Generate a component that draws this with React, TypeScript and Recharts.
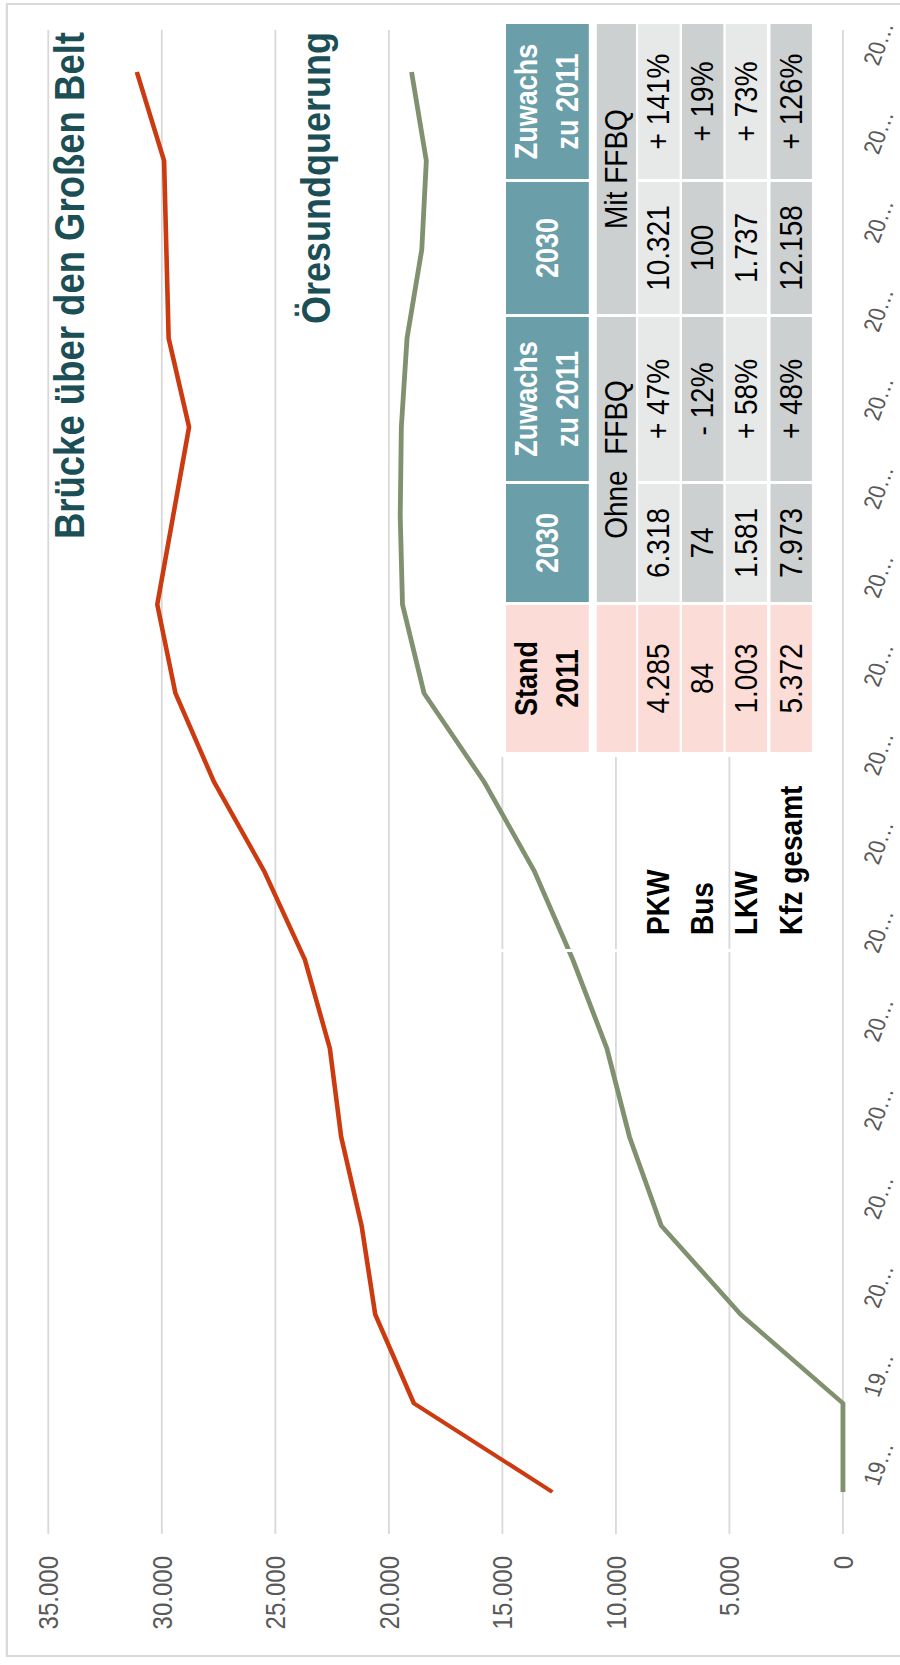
import React from 'react';
import { LineChart, Line, XAxis, YAxis, CartesianGrid } from 'recharts';

// ── Daten ─────────────────────────────────────────────────────────────────────

const years = [
  '1998', '1999', '2000', '2001', '2002', '2003', '2004', '2005', '2006',
  '2007', '2008', '2009', '2010', '2011', '2012', '2013', '2014',
];

// Kfz pro Tag, Brücke über den Großen Belt
const beltValues = [
  12800, 18900, 20600, 21200, 22100, 22600, 23700, 25500, 27700,
  29400, 30200, 29500, 28800, 29700, 29800, 29900, 31100,
];

// Kfz pro Tag, Öresundquerung
const oresundValues = [
  0, 0, 4500, 8000, 9400, 10400, 11900, 13600, 15800,
  18450, 19400, 19500, 19450, 19200, 18550, 18350, 19000,
];

const yTicks = [0, 5000, 10000, 15000, 20000, 25000, 30000, 35000];

// Tabelle
const rowLabels = ['PKW', 'Bus', 'LKW', 'Kfz gesamt'];
const stand2011 = ['4.285', '84', '1.003', '5.372'];
const ohne2030 = ['6.318', '74', '1.581', '7.973'];
const ohneZuwachs = ['+ 47%', '- 12%', '+ 58%', '+ 48%'];
const mit2030 = ['10.321', '100', '1.737', '12.158'];
const mitZuwachs = ['+ 141%', '+ 19%', '+ 73%', '+ 126%'];

// ── Layout ────────────────────────────────────────────────────────────────────

const W = 1665; // Querformat-Breite (= Seitenhöhe)
const STRETCH = 1.15; // Bild ist in der Breite leicht gestreckt
const H = Math.round(900 / STRETCH);
const CHART_H = H + 20;
const PLOT_TOP = 42;
const PLOT_H = 691;
const FONT = '"Liberation Sans", Arial, Helvetica, sans-serif';

const TEAL = '#6A9EA9';
const GREY_DARK = '#CDD0D1';
const GREY_LIGHT = '#E7E8E8';
const PINK = '#FBDCD6';

// Spalten (x-Bereiche) und Zeilen (y-Bereiche) der Tabelle
const colStand = [913, 1060];
const colOhne2030 = [1063, 1181];
const colOhneZuw = [1184, 1348];
const colMit2030 = [1351, 1483];
const colMitZuw = [1486, 1641];
const rowHeader = [440, 512];
const rowSub = [519, 553];
const rowBody = [
  [555, 591],
  [593, 629],
  [631, 667],
  [670, 706],
];

const deNumber = (v: number) => String(v).replace(/\B(?=(\d{3})+(?!\d))/g, '.');

const CategoryTick = ({ x, y, payload }: any) => {
  const label = String(payload.value).slice(0, 2) + '…';
  const x0 = x + 10;
  return (
    <text
      x={x0}
      y={y}
      dy="0.75em"
      transform={`rotate(18, ${x0}, ${y})`}
      fontSize={21}
      fill="#595959"
      fontFamily={FONT}
    >
      {label}
    </text>
  );
};

const Cell = ({
  col,
  row,
  bg,
  color = '#000',
  bold = false,
  size = 28,
  children,
}: any) => (
  <div
    style={{
      position: 'absolute',
      left: col[0],
      top: row[0],
      width: col[1] - col[0],
      height: row[1] - row[0],
      background: bg,
      color,
      fontWeight: bold ? 700 : 400,
      fontSize: size,
      display: 'flex',
      alignItems: 'center',
      justifyContent: 'center',
      textAlign: 'center',
      whiteSpace: 'pre',
      lineHeight: '36px',
    }}
  >
    {children}
  </div>
);

export default function App() {
  const data = years.map((year, i) => ({
    year,
    belt: beltValues[i],
    oresund: oresundValues[i],
  }));

  const bodyBg = (r: number) => (r % 2 === 0 ? GREY_LIGHT : GREY_DARK);

  return (
    <div
      style={{
        position: 'absolute',
        left: 0,
        top: 0,
        width: 900,
        height: 1665,
        overflow: 'hidden',
        background: '#fff',
        fontFamily: FONT,
      }}
    >
      <div
        style={{
          position: 'absolute',
          left: 0,
          top: 0,
          width: W,
          height: H,
          transformOrigin: '0 0',
          transform: `translate(0px, ${W}px) rotate(-90deg) scale(1, ${STRETCH})`,
        }}
      >
        {/* Rahmen */}
        <div
          style={{
            position: 'absolute',
            left: 8,
            top: 5,
            width: 1654,
            height: 900,
            border: '2px solid #D9D9D9',
            boxSizing: 'border-box',
          }}
        />

        <div style={{ position: 'absolute', left: 0, top: 0 }}>
          <LineChart
            width={W}
            height={CHART_H}
            data={data}
            margin={{ top: PLOT_TOP, right: 30, bottom: 0, left: 0 }}
          >
            <CartesianGrid vertical={false} stroke="#D9D9D9" strokeWidth={1.6} />
            <XAxis
              dataKey="year"
              height={CHART_H - PLOT_TOP - PLOT_H}
              padding={{ left: 42, right: 42 }}
              axisLine={false}
              tickLine={false}
              tickSize={0}
              tickMargin={16}
              interval={0}
              tick={<CategoryTick />}
            />
            <YAxis
              type="number"
              domain={[0, 35000]}
              ticks={yTicks}
              width={131}
              axisLine={false}
              tickLine={false}
              tickSize={0}
              tickMargin={22}
              tickFormatter={deNumber}
              tick={{ fontSize: 24, fill: '#595959', fontFamily: FONT }}
            />
            <Line
              type="linear"
              dataKey="belt"
              stroke="#CC3A10"
              strokeWidth={4}
              dot={false}
              isAnimationActive={false}
            />
            <Line
              type="linear"
              dataKey="oresund"
              stroke="#7F916F"
              strokeWidth={4.2}
              dot={false}
              isAnimationActive={false}
            />
          </LineChart>
        </div>

        {/* Beschriftung der Linien */}
        <div
          style={{
            position: 'absolute',
            right: 32,
            top: 43,
            fontSize: 36.5,
            lineHeight: '36px',
            fontWeight: 700,
            color: '#1C4E55',
            whiteSpace: 'nowrap',
          }}
        >
          Brücke über den Großen Belt
        </div>
        <div
          style={{
            position: 'absolute',
            right: 32,
            top: 257,
            fontSize: 36,
            lineHeight: '36px',
            fontWeight: 700,
            color: '#1C4E55',
            whiteSpace: 'nowrap',
          }}
        >
          Öresundquerung
        </div>

        {/* Tabelle: weißer Hintergrund und Trennlinie */}
        <div
          style={{
            position: 'absolute',
            left: 908,
            top: 434,
            width: 737,
            height: 276,
            background: '#fff',
          }}
        />
        <div
          style={{
            position: 'absolute',
            left: 713,
            top: 434,
            width: 3,
            height: 275,
            background: '#fff',
          }}
        />

        {/* Kopfzeile */}
        <Cell col={colStand} row={rowHeader} bg={PINK} bold size={27}>
          {'Stand\n2011'}
        </Cell>
        <Cell col={colOhne2030} row={rowHeader} bg={TEAL} color="#fff" bold size={27}>
          2030
        </Cell>
        <Cell col={colOhneZuw} row={rowHeader} bg={TEAL} color="#fff" bold size={27}>
          {'Zuwachs\nzu 2011'}
        </Cell>
        <Cell col={colMit2030} row={rowHeader} bg={TEAL} color="#fff" bold size={27}>
          2030
        </Cell>
        <Cell col={colMitZuw} row={rowHeader} bg={TEAL} color="#fff" bold size={27}>
          {'Zuwachs\nzu 2011'}
        </Cell>

        {/* Unterzeile */}
        <Cell col={colStand} row={rowSub} bg={PINK} />
        <Cell col={[colOhne2030[0], colOhneZuw[1]]} row={rowSub} bg={GREY_DARK}>
          {'Ohne  FFBQ'}
        </Cell>
        <Cell col={[colMit2030[0], colMitZuw[1]]} row={rowSub} bg={GREY_DARK}>
          Mit FFBQ
        </Cell>

        {/* Werte */}
        {rowBody.map((row, r) => (
          <React.Fragment key={rowLabels[r]}>
            <div
              style={{
                position: 'absolute',
                left: 730,
                top: row[0],
                height: row[1] - row[0],
                display: 'flex',
                alignItems: 'center',
                fontSize: 28,
                fontWeight: 700,
                color: '#000',
                whiteSpace: 'nowrap',
              }}
            >
              {rowLabels[r]}
            </div>
            <Cell col={colStand} row={row} bg={PINK}>
              {stand2011[r]}
            </Cell>
            <Cell col={colOhne2030} row={row} bg={bodyBg(r)}>
              {ohne2030[r]}
            </Cell>
            <Cell col={colOhneZuw} row={row} bg={bodyBg(r)}>
              {ohneZuwachs[r]}
            </Cell>
            <Cell col={colMit2030} row={row} bg={bodyBg(r)}>
              {mit2030[r]}
            </Cell>
            <Cell col={colMitZuw} row={row} bg={bodyBg(r)}>
              {mitZuwachs[r]}
            </Cell>
          </React.Fragment>
        ))}
      </div>
    </div>
  );
}
